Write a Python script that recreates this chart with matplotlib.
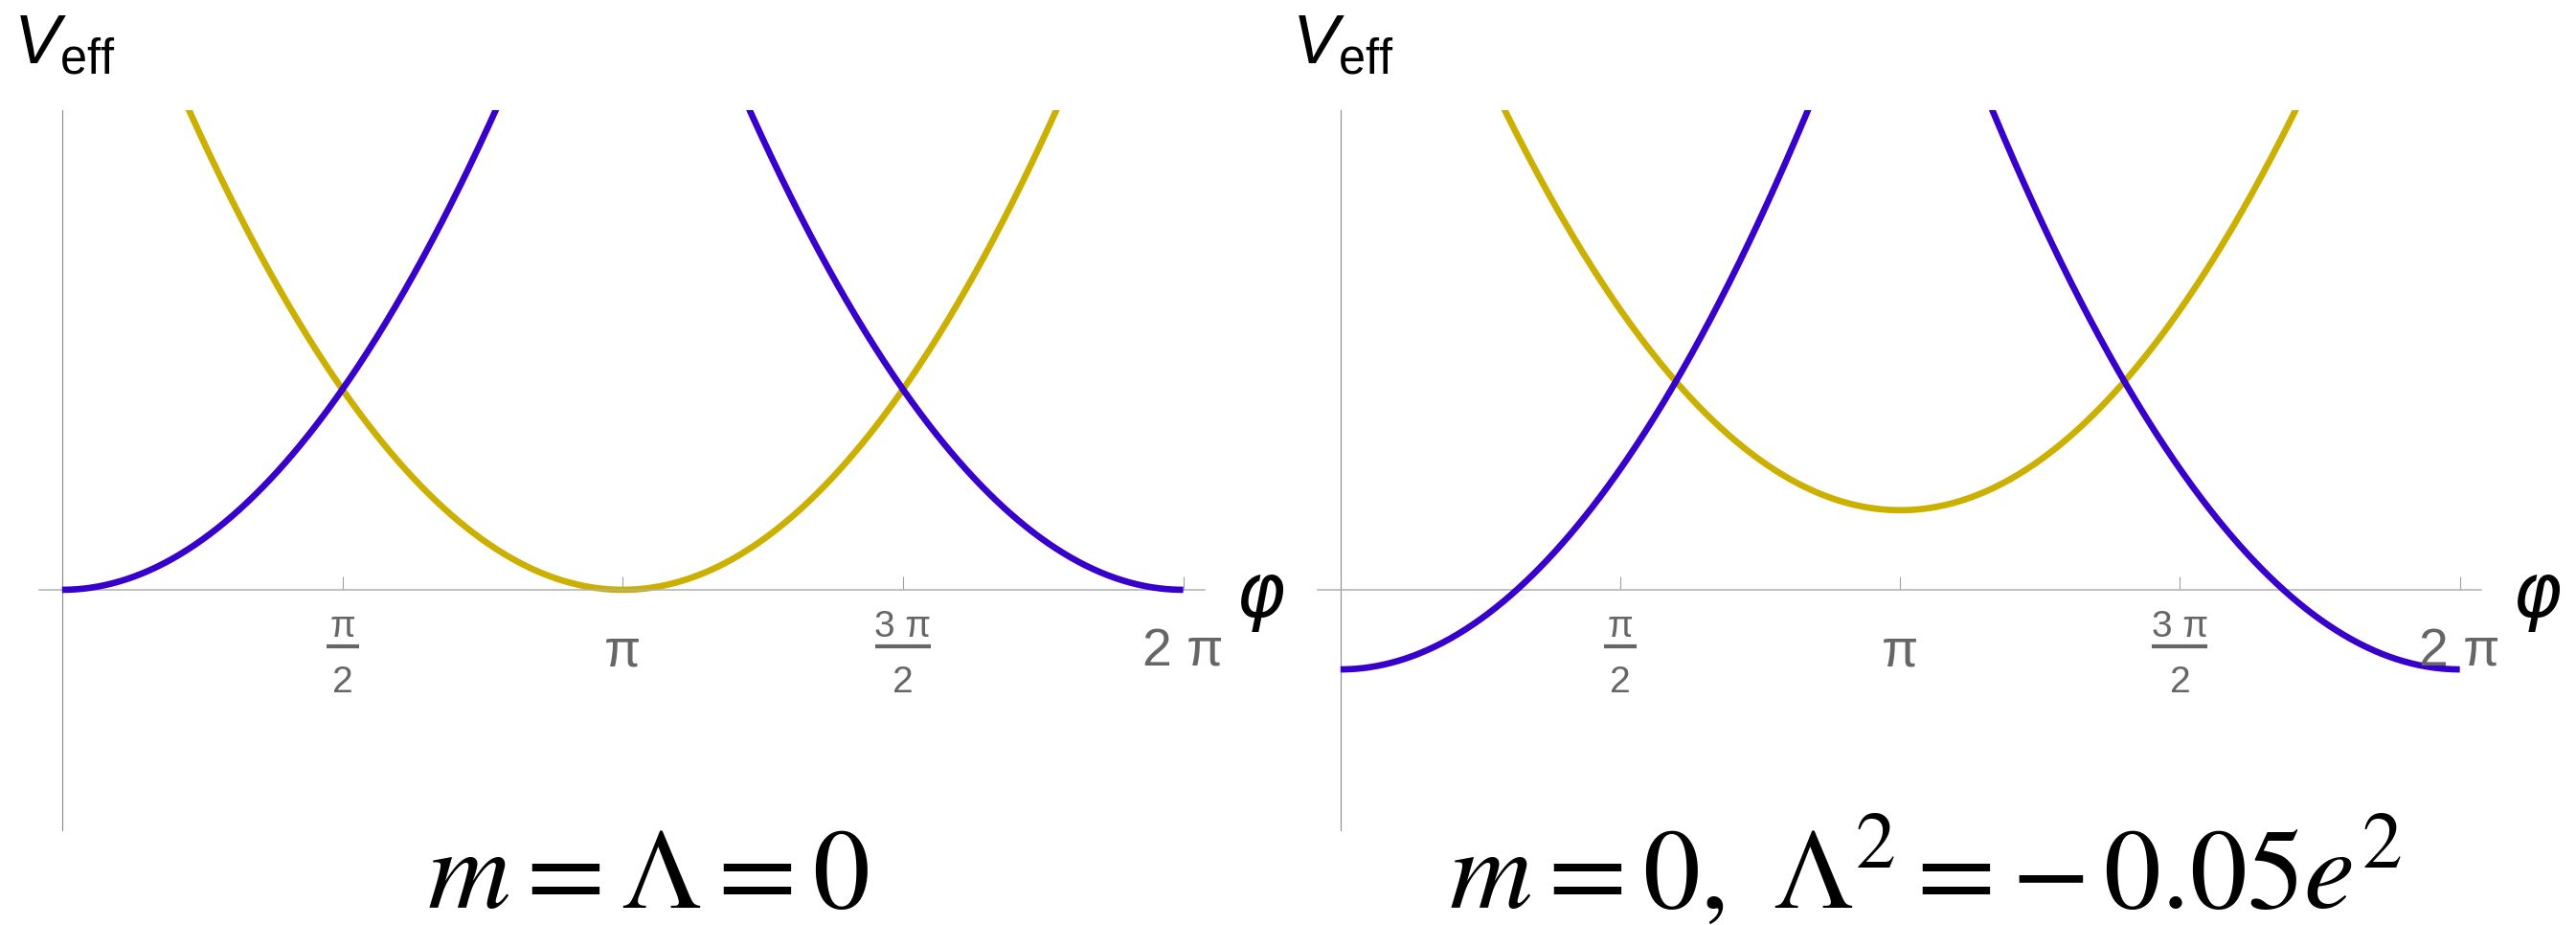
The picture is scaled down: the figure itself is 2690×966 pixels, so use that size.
import numpy as np
import matplotlib
matplotlib.use("Agg")
import matplotlib.pyplot as plt
from matplotlib.transforms import offset_copy

plt.rcParams['mathtext.fontset'] = 'custom'
plt.rcParams['mathtext.rm'] = 'Liberation Sans'
plt.rcParams['mathtext.it'] = 'Liberation Sans:italic'
plt.rcParams['font.family'] = ['Liberation Sans', 'DejaVu Sans']

# two branches of the effective potential, one panel per parameter choice
captions = [r'$m=\Lambda=0$', r'$m=0,\ \Lambda^2=-\,0.05e^2$']
blue_centres = [0.0, 2 * np.pi]
blue_min = [0.0, -0.98]
gold_centre = np.pi
gold_min = [0.0, 0.98]

# tick labels: (numerator, denominator); denominator None -> plain label
phi_ticks = [np.pi / 2, np.pi, 3 * np.pi / 2, 2 * np.pi]
tick_num = ['π', 'π', '3 π', '2 π']
tick_den = ['2', None, '2', None]

BLUE = '#3700cc'
GOLD = '#cbb000'
TICK_GREY = '#666666'
W, H = 2690, 966

fig = plt.figure(figsize=(W / 100, H / 100), dpi=100)
lefts = [40.6, 1375.6]
widths = [1217.4, 1215.4]
caption_x = [677, 2011]

phi = np.linspace(0, 2 * np.pi, 600)

for i in range(2):
    ax = fig.add_axes([lefts[i] / W, 99 / H, widths[i] / W, 752 / H])
    for c in blue_centres:
        ax.plot(phi, (phi - c) ** 2 + blue_min[i], color=BLUE, lw=4.8,
                solid_capstyle='butt', zorder=3)
    ax.plot(phi, (phi - gold_centre) ** 2 + gold_min[i], color=GOLD, lw=4.8,
            solid_capstyle='butt', zorder=2)

    ax.set_xlim(-0.13, 2 * np.pi + 0.12)
    ax.set_ylim(-2.96, 5.906)

    for side in ('top', 'right'):
        ax.spines[side].set_visible(False)
    ax.spines['left'].set_position(('data', 0))
    ax.spines['bottom'].set_position(('data', 0))
    ax.spines['left'].set_color('#8c8c8c')
    ax.spines['left'].set_linewidth(0.8)
    ax.spines['bottom'].set_color('#b0b0b0')
    ax.spines['bottom'].set_linewidth(1.1)

    ax.set_yticks([])
    ax.set_xticks(phi_ticks)
    ax.set_xticklabels([])
    ax.tick_params(axis='x', direction='in', length=10, width=0.8,
                   color='#a0a0a0')

    # Mathematica-style stacked fractions under the ticks
    for x, num, den in zip(phi_ticks, tick_num, tick_den):
        if den is None:
            ax.annotate(num, (x, 0), xytext=(0, -47), textcoords='offset points',
                        ha='center', va='center', fontsize=40, color=TICK_GREY)
            continue
        ax.annotate(num, (x, 0), xytext=(0, -28), textcoords='offset points',
                    ha='center', va='center', fontsize=28, color=TICK_GREY)
        bar_w = 24 if len(num) == 1 else 42
        ax.plot([x], [0], marker='_', ms=bar_w, mew=3.0, color=TICK_GREY,
                transform=offset_copy(ax.transData, fig=fig, y=-59, units='dots'),
                clip_on=False)
        ax.annotate(den, (x, 0), xytext=(0, -70), textcoords='offset points',
                    ha='center', va='center', fontsize=28, color=TICK_GREY)

    ax.annotate(r'$V_{\mathrm{eff}}$', (0, 1), xycoords=('data', 'axes fraction'),
                xytext=(2, 35), textcoords='offset points',
                ha='center', va='baseline', fontsize=52, color='black')
    ax.annotate(r'$\varphi$', (1, 0), xycoords=('axes fraction', 'data'),
                xytext=(42, -7), textcoords='offset points',
                ha='center', va='center', fontsize=56, color='black',
                math_fontfamily='dejavusans')
    ax.patch.set_alpha(0)

    fig.text(caption_x[i] / W, (H - 948) / H, captions[i], ha='center',
             va='baseline', fontsize=86, math_fontfamily='stix')

fig.savefig('out.png', dpi=100)
